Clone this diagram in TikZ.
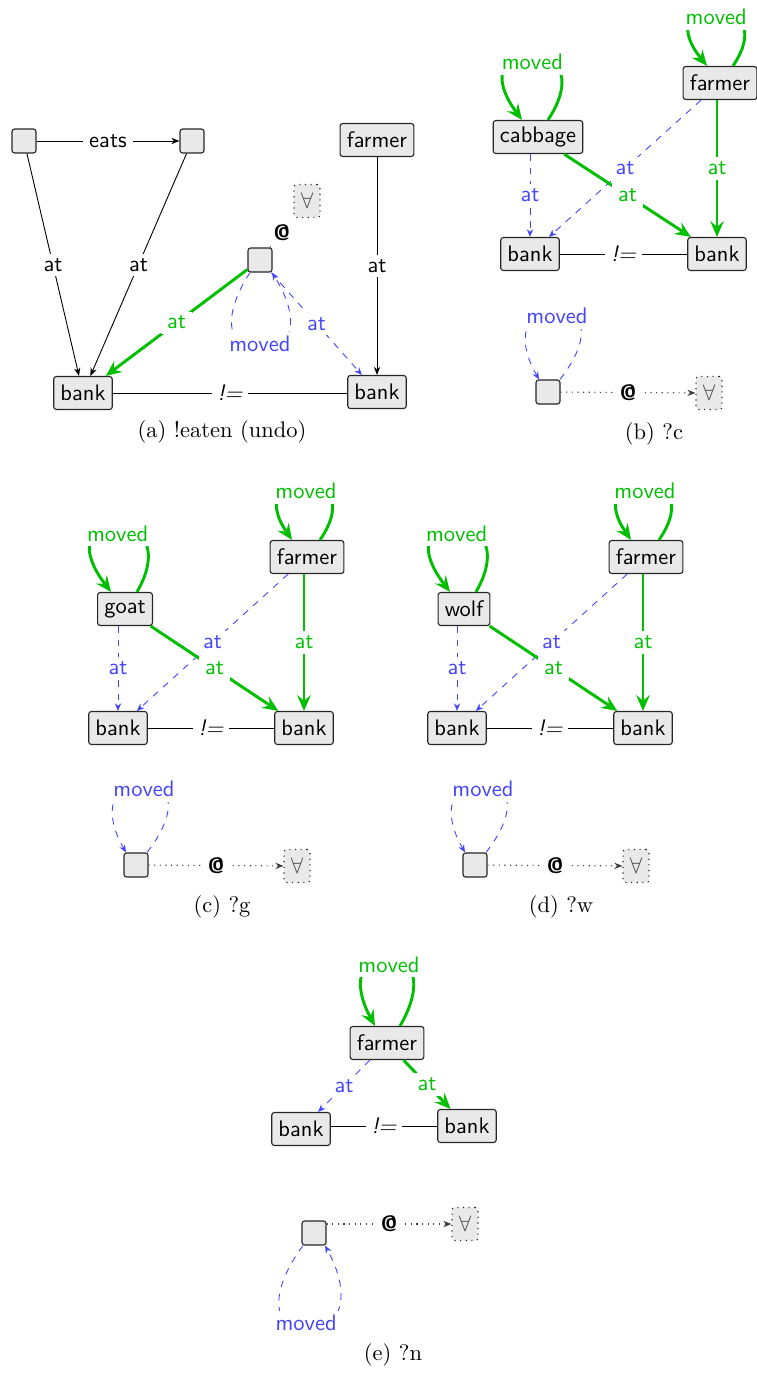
\documentclass[tikz,border=0pt]{standalone}
\usetikzlibrary{arrows.meta,calc}
\definecolor{mygreen}{RGB}{0,190,0}
\definecolor{myblue}{RGB}{68,68,255}
\definecolor{nodefill}{RGB}{233,233,233}
\tikzset{
  box/.style={draw=black!85, line width=0.5pt, fill=nodefill, rounded corners=1.2pt, font=\sffamily, inner xsep=3pt, inner ysep=0pt, minimum height=14.7pt},
  blank/.style={draw=black!85, line width=0.5pt, fill=nodefill, rounded corners=1.2pt, minimum size=10.7pt, inner sep=0pt},
  fa/.style={draw=black!85, dotted, line width=0.5pt, fill=nodefill, rounded corners=1.2pt, inner xsep=3pt, inner ysep=0pt, minimum height=14.7pt, text=black!70},
  lbl/.style={fill=white, inner xsep=2.7pt, inner ysep=2pt, font=\sffamily},
  glbl/.style={lbl, text=mygreen},
  blbl/.style={lbl, text=myblue},
  gloop/.style={glbl, inner sep=2pt, pos=0.5, below, yshift=2.2pt},
  bloopup/.style={blbl, inner sep=2pt, pos=0.5, below, yshift=1.8pt},
  bloopdown/.style={blbl, inner sep=2pt, pos=0.5, above, yshift=-1.5pt},
  neq/.style={lbl, font=\sffamily\itshape},
  atlbl/.style={lbl, font=\sffamily\bfseries},
  plain/.style={draw=black, line width=0.4pt},
  parr/.style={plain, -{Stealth[length=3.6pt,width=2.8pt]}},
  gr/.style={draw=mygreen, line width=1.3pt, -{Stealth[length=7pt,width=6pt,inset=2.5pt]}},
  bl/.style={draw=myblue, dashed, line width=0.4pt, -{Stealth[length=3.4pt,width=2.8pt]}},
  dotline/.style={draw=black!75, dotted, line width=0.5pt},
  dotarr/.style={dotline, -{Stealth[length=3.6pt,width=2.8pt]}},
  captxt/.style={font=\normalsize, inner sep=0pt}
}
\begin{document}
\begin{tikzpicture}[x=0.445pt,y=-0.445pt]
\useasboundingbox (0,0) rectangle (757,1373);

% ---------- (a) ----------
\node[blank] (a1) at (24,141) {};
\node[blank] (a2) at (192,141) {};
\node[box] (afarmer) at (377,140) {farmer};
\node[fa] (afa) at (307,201) {$\forall$};
\node[blank] (am) at (260,260) {};
\node[box] (abl) at (83,393) {bank};
\node[box] (abr) at (377,392) {bank};
\draw[parr] (a1) -- node[lbl]{eats} (a2);
\draw[parr] (a1) -- node[lbl]{at} (abl);
\draw[parr] (a2) -- node[lbl]{at} (abl);
\draw[parr] (afarmer) -- node[lbl]{at} (abr);
\draw[gr] (am) -- node[glbl]{at} (abl);
\draw[bl] (am) -- node[blbl]{at} (abr);
\draw[bl] ($(am.south)+(-10,0)$) .. controls +(-71,108) and +(68,108) .. node[bloopdown]{moved} ($(am.south)+(12,0)$);
\draw[dotline] (am) -- node[atlbl]{@} (afa);
\draw[plain] (abl) -- node[neq]{!=} (abr.west |- abl);
\node[captxt] (capa) at (222,432) {(a) !eaten (undo)};

% ---------- (b) ----------
\node[box] (bfarmer) at (720,83) {farmer};
\node[box] (bcab) at (538,137) {cabbage};
\node[box] (bbl) at (530,254) {bank};
\node[box] (bbr) at (717,254) {bank};
\node[blank] (bsq) at (548,392) {};
\node[fa] (bfa) at (709,393) {$\forall$};
\draw[gr] ($(bfarmer.north)+(13,0)$) .. controls +(52,-77) and +(-62,-77) .. node[gloop]{moved} ($(bfarmer.north)+(-13,0)$);
\draw[gr] ($(bcab.north)+(10,0)$) .. controls +(59,-89) and +(-66,-89) .. node[gloop]{moved} ($(bcab.north)+(-16,0)$);
\draw[bl] (bbl |- bcab.south) -- node[blbl]{at} (bbl);
\draw[gr] (bbr |- bfarmer.south) -- node[glbl]{at} (bbr);
\draw[bl] (bfarmer) -- node[blbl]{at} (bbl);
\draw[gr] (bcab) -- node[glbl]{at} (bbr);
\draw[plain] (bbl) -- node[neq]{!=} (bbr);
\draw[bl] ($(bsq.north)+(12,0)$) .. controls +(75,-96) and +(-55,-96) .. node[bloopup]{moved} ($(bsq.north)+(-9,0)$);
\draw[dotarr] (bsq) -- node[atlbl]{@} (bfa);
\node[captxt] (capb) at (654,434) {(b) ?c};

% ---------- (c) ----------
\node[box] (cfarmer) at (307,557) {farmer};
\node[box] (cgoat) at (125,609) {goat};
\node[box] (cbl) at (118,728) {bank};
\node[box] (cbr) at (304,728) {bank};
\node[blank] (csq) at (136,865) {};
\node[fa] (cfa) at (297,866) {$\forall$};
\draw[gr] ($(cfarmer.north)+(13,0)$) .. controls +(53,-77) and +(-53,-77) .. node[gloop]{moved} ($(cfarmer.north)+(-15,0)$);
\draw[gr] ($(cgoat.north)+(12,0)$) .. controls +(52,-90) and +(-69,-90) .. node[gloop]{moved} ($(cgoat.north)+(-14,0)$);
\draw[bl] (cbl |- cgoat.south) -- node[blbl]{at} (cbl);
\draw[gr] (cbr |- cfarmer.south) -- node[glbl]{at} (cbr);
\draw[bl] (cfarmer) -- node[blbl]{at} (cbl);
\draw[gr] (cgoat) -- node[glbl]{at} (cbr);
\draw[plain] (cbl) -- node[neq]{!=} (cbr);
\draw[bl] ($(csq.north)+(11,0)$) .. controls +(75,-96) and +(-55,-96) .. node[bloopup]{moved} ($(csq.north)+(-10,0)$);
\draw[dotarr] (csq) -- node[atlbl]{@} (cfa);
\node[captxt] (capc) at (222,907) {(c) ?g};

% ---------- (d) ----------
\node[box] (dfarmer) at (646,557) {farmer};
\node[box] (dwolf) at (464,609) {wolf};
\node[box] (dbl) at (457,728) {bank};
\node[box] (dbr) at (643,728) {bank};
\node[blank] (dsq) at (475,865) {};
\node[fa] (dfa) at (636,866) {$\forall$};
\draw[gr] ($(dfarmer.north)+(13,0)$) .. controls +(53,-77) and +(-53,-77) .. node[gloop]{moved} ($(dfarmer.north)+(-15,0)$);
\draw[gr] ($(dwolf.north)+(12,0)$) .. controls +(52,-90) and +(-69,-90) .. node[gloop]{moved} ($(dwolf.north)+(-14,0)$);
\draw[bl] (dbl |- dwolf.south) -- node[blbl]{at} (dbl);
\draw[gr] (dbr |- dfarmer.south) -- node[glbl]{at} (dbr);
\draw[bl] (dfarmer) -- node[blbl]{at} (dbl);
\draw[gr] (dwolf) -- node[glbl]{at} (dbr);
\draw[plain] (dbl) -- node[neq]{!=} (dbr);
\draw[bl] ($(dsq.north)+(11,0)$) .. controls +(75,-96) and +(-55,-96) .. node[bloopup]{moved} ($(dsq.north)+(-10,0)$);
\draw[dotarr] (dsq) -- node[atlbl]{@} (dfa);
\node[captxt] (capd) at (561,907) {(d) ?w};

% ---------- (e) ----------
\node[box] (efarmer) at (387,1043) {farmer};
\node[box] (ebl) at (301,1129) {bank};
\node[box] (ebr) at (467,1126) {bank};
\node[blank] (esq) at (314,1233) {};
\node[fa] (efa) at (465,1224) {$\forall$};
\draw[gr] ($(efarmer.north)+(13,0)$) .. controls +(55,-94) and +(-51,-94) .. node[gloop]{moved} ($(efarmer.north)+(-12,0)$);
\draw[bl] (efarmer) -- node[blbl]{at} (ebl);
\draw[gr] (efarmer) -- node[glbl]{at} (ebr);
\draw[plain] (ebl.east |- ebr) -- node[neq]{!=} (ebr);
\draw[bl] ($(esq.south)+(-11,0)$) .. controls +(-85,116) and +(64,116) .. node[bloopdown]{moved} ($(esq.south)+(11,0)$);
\draw[dotarr] (esq.east |- efa) -- node[atlbl]{@} (efa);
\node[captxt] (cape) at (393,1355) {(e) ?n};
\end{tikzpicture}
\end{document}
